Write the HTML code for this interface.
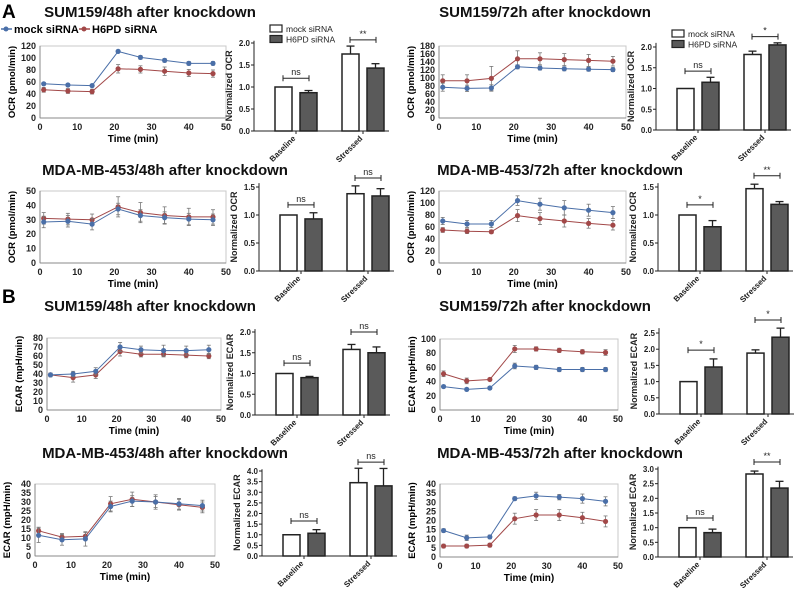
<!DOCTYPE html>
<html><head><meta charset="utf-8">
<style>
body{margin:0;background:#fff;}
svg{display:block;font-family:"Liberation Sans",Arial,sans-serif;}
.t{font-weight:bold;font-size:15px;fill:#111;}
.tk{font-size:9px;font-weight:bold;fill:#222;}
.btk{font-size:8px;font-weight:bold;fill:#222;}
</style></head>
<body>
<svg id="fig" width="799" height="590" viewBox="0 0 799 590">
<text x="2" y="18" style="font-size:19px;font-weight:bold">A</text>
<text x="2" y="303" style="font-size:19px;font-weight:bold">B</text>
<text class="t" x="150" y="17" text-anchor="middle">SUM159/48h after knockdown</text>
<text class="t" x="545" y="17" text-anchor="middle">SUM159/72h after knockdown</text>
<text class="t" x="165" y="175" text-anchor="middle">MDA-MB-453/48h after knockdown</text>
<text class="t" x="560" y="175" text-anchor="middle">MDA-MB-453/72h after knockdown</text>
<text class="t" x="150" y="311" text-anchor="middle">SUM159/48h after knockdown</text>
<text class="t" x="545" y="311" text-anchor="middle">SUM159/72h after knockdown</text>
<text class="t" x="165" y="458" text-anchor="middle">MDA-MB-453/48h after knockdown</text>
<text class="t" x="560" y="458" text-anchor="middle">MDA-MB-453/72h after knockdown</text>
<g>
<line x1="1" y1="29" x2="12" y2="29" stroke="#4a6fa8" stroke-width="1.5"/><circle cx="6" cy="29" r="2.5" fill="#4a6fa8"/>
<text x="14" y="33" style="font-size:11px;font-weight:bold">mock siRNA</text>
<line x1="79" y1="29" x2="90" y2="29" stroke="#a24848" stroke-width="1.5"/><circle cx="84" cy="29" r="2.5" fill="#a24848"/>
<text x="92" y="33" style="font-size:11px;font-weight:bold">H6PD siRNA</text>
</g>
</svg>
<script>
const times=[1,7.5,14,21,27,33.5,40,46.5];
const l1Mock=[57,55,54,111,101,96,91,91], l1MockErr=[2,2,2,2,3,3,3,3];
const l1H6=[47,45,44,82,81,78,75,74], l1H6Err=[4,4,4,7,6,7,6,6];
const l2Mock=[77,74,75,128,125,123,122,121], l2MockErr=[10,8,8,5,5,5,5,5];
const l2H6=[93,93,99,148,148,146,144,142], l2H6Err=[15,15,30,20,15,15,15,12];
const l3Mock=[28.5,29,27,37.5,33,31.5,30.5,30], l3MockErr=[4,4,4,4,4,4,4,4];
const l3H6=[31,30.5,30,39,35,33,32,32], l3H6Err=[4,4,4,7,7,6,6,5];
const l4Mock=[70,65,65,104,98,92,88,84], l4MockErr=[6,6,6,8,10,12,10,10];
const l4H6=[55,53,52,79,74,70,66,63], l4H6Err=[4,4,3,10,10,10,8,8];
const l5Mock=[39,40,43,70,67,66,66,67], l5MockErr=[2,3,4,5,4,6,5,5];
const l5H6=[39,36,39,65,62,62,61,60], l5H6Err=[2,5,4,5,3,3,3,3];
const l6Mock=[33,29,31,62,60,57,57,57], l6MockErr=[2,2,2,4,3,3,3,3];
const l6H6=[51,41,43,86,86,84,82,81], l6H6Err=[4,4,2,5,3,3,3,4];
const l7Mock=[11.5,9,9.5,27.5,30.5,30,29,28], l7MockErr=[4,3,4,3,3,3,3,3];
const l7H6=[14,10.5,11,29,31.5,30,28.5,27], l7H6Err=[2,2,2,4,4,4,3,3];
const l8Mock=[14.5,10.5,11,32,33.5,32.8,32,30.5], l8MockErr=[1,1.5,1,1,2,1.5,2.5,2.5];
const l8H6=[6,6,6.5,21,23,23,21.5,19.5], l8H6Err=[1,1,1,3,3,3,3,3];
const yTicks1=[0,20,40,60,80,100,120], yTicks2=[0,20,40,60,80,100,120,140,160,180];
const yTicks3=[0,10,20,30,40,50], yTicks5=[0,10,20,30,40,50,60,70,80];
const yTicks6=[0,20,40,60,80,100], yTicks7=[0,5,10,15,20,25,30,35,40];
const xTicks=[0,10,20,30,40,50];

const categories=["Baseline","Stressed"];
const b1Mock=[1.0,1.75],b1MockErr=[0,0.18],b1H6=[0.87,1.43],b1H6Err=[0.05,0.1],b1Sig=["ns","**"],b1SigY=[1.2,2.07];
const b2Mock=[1.0,1.82],b2MockErr=[0,0.08],b2H6=[1.15,2.05],b2H6Err=[0.12,0.05],b2Sig=["ns","*"],b2SigY=[1.42,2.25];
const b3Mock=[1.0,1.38],b3MockErr=[0,0.14],b3H6=[0.93,1.34],b3H6Err=[0.11,0.13],b3Sig=["ns","ns"],b3SigY=[1.18,1.66];
const b4Mock=[1.0,1.47],b4MockErr=[0,0.08],b4H6=[0.79,1.19],b4H6Err=[0.11,0.05],b4Sig=["*","**"],b4SigY=[1.18,1.7];
const b5Mock=[1.0,1.58],b5MockErr=[0,0.12],b5H6=[0.9,1.5],b5H6Err=[0.03,0.14],b5Sig=["ns","ns"],b5SigY=[1.25,2.0];
const b6Mock=[1.0,1.88],b6MockErr=[0,0.1],b6H6=[1.45,2.37],b6H6Err=[0.25,0.28],b6Sig=["*","*"],b6SigY=[1.97,2.9];
const b7Mock=[1.0,3.45],b7MockErr=[0,0.68],b7H6=[1.07,3.3],b7H6Err=[0.17,0.82],b7Sig=["ns","ns"],b7SigY=[1.65,4.42];
const b8Mock=[1.0,2.83],b8MockErr=[0,0.1],b8H6=[0.83,2.35],b8H6Err=[0.12,0.23],b8Sig=["ns","**"],b8SigY=[1.33,3.24];
const bTicks20=[0,0.5,1.0,1.5,2.0],bTicks15=[0,0.5,1.0,1.5],bTicks25=[0,0.5,1.0,1.5,2.0,2.5];
const bTicks40=[0,0.5,1.0,1.5,2.0,2.5,3.0,3.5,4.0],bTicks30=[0,0.5,1.0,1.5,2.0,2.5,3.0];

const NS="http://www.w3.org/2000/svg";
const svg=document.getElementById("fig");
function mk(tag,attrs,parent,text){const e=document.createElementNS(NS,tag);for(const k in attrs)e.setAttribute(k,attrs[k]);if(text!==undefined)e.textContent=text;(parent||svg).appendChild(e);return e;}
const BLUE="#4a6fa8",RED="#a24848";

function lineChart(name,g,ticks,ymax,ytitle,mock,mockErr,h6,h6Err){
  const G=mk("g",{});
  
  
  const xs=v=>g.x0+(g.x1-g.x0)*v/50, ys=v=>g.y0-(g.y0-g.y1)*v/ymax;
  mk("rect",{x:g.x0,y:g.y1,width:g.x1-g.x0,height:g.y0-g.y1,fill:"none",stroke:"#c8c8c8","stroke-width":1},G);
  mk("line",{x1:g.x0,y1:g.y1,x2:g.x0,y2:g.y0,stroke:"#888"},G);
  mk("line",{x1:g.x0,y1:g.y0,x2:g.x1,y2:g.y0,stroke:"#888"},G);
  ticks.forEach(t=>{const tx=mk("text",{x:g.x0-4,y:ys(t)+3,"text-anchor":"end",class:"tk"},G,String(t));
    });
  xTicks.forEach(t=>{const tx=mk("text",{x:xs(t),y:g.y0+12,"text-anchor":"middle",class:"tk"},G,String(t));
    });
  const xt=mk("text",{x:(g.x0+g.x1)/2,y:g.y0+24,"text-anchor":"middle",style:"font-size:10px;font-weight:bold"},G,"Time (min)");
  
  const yc=(g.y0+g.y1)/2;
  const yt=mk("text",{x:g.x0-25,y:yc,"text-anchor":"middle",transform:`rotate(-90 ${g.x0-25} ${yc})`,style:"font-size:9.5px;font-weight:bold"},G,ytitle);
  
  [[h6,h6Err,RED,"h6pd"],[mock,mockErr,BLUE,"mock"]].forEach(([d,e,c,n])=>{
    d.forEach((v,i)=>{const x=xs(times[i]);
      const el=mk("g",{},G);
      
      mk("line",{x1:x,y1:ys(v-e[i]),x2:x,y2:ys(v+e[i]),stroke:"#777","stroke-width":0.8},el);
      mk("line",{x1:x-2,y1:ys(v-e[i]),x2:x+2,y2:ys(v-e[i]),stroke:"#777","stroke-width":0.8},el);
      mk("line",{x1:x-2,y1:ys(v+e[i]),x2:x+2,y2:ys(v+e[i]),stroke:"#777","stroke-width":0.8},el);});
    const p=mk("polyline",{points:d.map((v,i)=>xs(times[i])+","+ys(v)).join(" "),fill:"none",stroke:c,"stroke-width":1},G);
    
    d.forEach((v,i)=>{const pt=mk("circle",{cx:xs(times[i]),cy:ys(v),r:2.6,fill:c},G);
      });
  });
}

function barChart(name,g,ticks,ymax,axTop,ytitle,mock,mockErr,h6,h6Err,sig,sigY,legend){
  const G=mk("g",{});
  
  
  const ys=v=>g.y0-(g.y0-g.y1)*v/ymax;
  mk("line",{x1:g.ax,y1:ys(axTop),x2:g.ax,y2:g.y0,stroke:"#222","stroke-width":1},G);
  mk("line",{x1:g.ax,y1:g.y0,x2:g.ax+135,y2:g.y0,stroke:"#222","stroke-width":1},G);
  ticks.forEach(t=>{mk("line",{x1:g.ax-3,y1:ys(t),x2:g.ax,y2:ys(t),stroke:"#222"},G);
    const tx=mk("text",{x:g.ax-4,y:ys(t)+3,"text-anchor":"end",class:"btk"},G,t.toFixed(1));
    });
  const yc=(g.y0+ys(axTop))/2;
  const yt=mk("text",{x:g.ax-22,y:yc,"text-anchor":"middle",transform:`rotate(-90 ${g.ax-22} ${yc})`,style:"font-size:9px;font-weight:bold;fill:#222"},G,ytitle);
  
  const W=17;
  categories.forEach((c,i)=>{
    const gx=g.ax+21+i*67;
    [[mock,mockErr,"#fff","mock",gx],[h6,h6Err,"#5a5a5a","h6pd",gx+25]].forEach(([d,e,f,n,x])=>{
      if(e[i]>0){mk("line",{x1:x+W/2,y1:ys(d[i]),x2:x+W/2,y2:ys(d[i]+e[i]),stroke:"#222","stroke-width":1.3},G);
        mk("line",{x1:x+W/2-4,y1:ys(d[i]+e[i]),x2:x+W/2+4,y2:ys(d[i]+e[i]),stroke:"#222","stroke-width":1.3},G);}
      const r=mk("rect",{x:x,y:ys(d[i]),width:W,height:g.y0-ys(d[i]),fill:f,stroke:"#222","stroke-width":1.5},G);
      
    });
    const cx=gx+21;
    mk("line",{x1:cx,y1:g.y0,x2:cx,y2:g.y0+3,stroke:"#222"},G);
    const lb=mk("text",{x:cx,y:g.y0+8,"text-anchor":"end",transform:`rotate(-45 ${cx} ${g.y0+8})`,class:"btk"},G,c);
    
    const sy=ys(sigY[i]);
    mk("path",{d:`M${gx+8} ${sy-3}V${sy+3}M${gx+8} ${sy}H${gx+34}M${gx+34} ${sy-3}V${sy+3}`,stroke:"#222",fill:"none","stroke-width":1},G);
    const st=mk("text",{x:gx+21,y:sy-3,"text-anchor":"middle",style:"font-size:9px;fill:#222"},G,sig[i]);
    
  });
  if(legend){
    const L=mk("g",{},G);
    
    [["#fff","mock siRNA"],["#5a5a5a","H6PD siRNA"]].forEach(([f,t],k)=>{
      mk("rect",{x:legend[0],y:legend[1]+k*10.5-4,width:12,height:7,fill:f,stroke:"#222","stroke-width":1.2},L);
      mk("text",{x:legend[0]+16,y:legend[1]+k*10.5+3,style:"font-size:8.5px;fill:#222"},L,t);
    });
  }
}

lineChart("ocr-sum159-48h",{x0:40,x1:226,y0:118,y1:46},yTicks1,120,"OCR (pmol/min)",l1Mock,l1MockErr,l1H6,l1H6Err);
lineChart("ocr-sum159-72h",{x0:439,x1:626,y0:118,y1:46},yTicks2,180,"OCR (pmol/min)",l2Mock,l2MockErr,l2H6,l2H6Err);
lineChart("ocr-mda-48h",{x0:40,x1:226,y0:263,y1:191},yTicks3,50,"OCR (pmol/min)",l3Mock,l3MockErr,l3H6,l3H6Err);
lineChart("ocr-mda-72h",{x0:439,x1:626,y0:263,y1:191},yTicks1,120,"OCR (pmol/min)",l4Mock,l4MockErr,l4H6,l4H6Err);
lineChart("ecar-sum159-48h",{x0:47,x1:221,y0:410,y1:338},yTicks5,80,"ECAR (mpH/min)",l5Mock,l5MockErr,l5H6,l5H6Err);
lineChart("ecar-sum159-72h",{x0:440,x1:618,y0:410,y1:339},yTicks6,100,"ECAR (mpH/min)",l6Mock,l6MockErr,l6H6,l6H6Err);
lineChart("ecar-mda-48h",{x0:35,x1:215,y0:556,y1:484},yTicks7,40,"ECAR (mpH/min)",l7Mock,l7MockErr,l7H6,l7H6Err);
lineChart("ecar-mda-72h",{x0:440,x1:618,y0:557,y1:484},yTicks7,40,"ECAR (mpH/min)",l8Mock,l8MockErr,l8H6,l8H6Err);

barChart("norm-ocr-sum159-48h",{ax:254,y0:131,y1:43},bTicks20,2.0,2.05,"Normalized OCR",b1Mock,b1MockErr,b1H6,b1H6Err,b1Sig,b1SigY,[270,29]);
barChart("norm-ocr-sum159-72h",{ax:656,y0:130,y1:47},bTicks20,2.0,2.1,"Normalized OCR",b2Mock,b2MockErr,b2H6,b2H6Err,b2Sig,b2SigY,[672,34]);
barChart("norm-ocr-mda-48h",{ax:259,y0:271,y1:187},bTicks15,1.5,1.57,"Normalized OCR",b3Mock,b3MockErr,b3H6,b3H6Err,b3Sig,b3SigY,null);
barChart("norm-ocr-mda-72h",{ax:658,y0:271,y1:187},bTicks15,1.5,1.57,"Normalized OCR",b4Mock,b4MockErr,b4H6,b4H6Err,b4Sig,b4SigY,null);
barChart("norm-ecar-sum159-48h",{ax:255,y0:415,y1:332},bTicks20,2.0,2.07,"Normalized ECAR",b5Mock,b5MockErr,b5H6,b5H6Err,b5Sig,b5SigY,null);
barChart("norm-ecar-sum159-72h",{ax:659,y0:414,y1:333},bTicks25,2.5,2.65,"Normalized ECAR",b6Mock,b6MockErr,b6H6,b6H6Err,b6Sig,b6SigY,null);
barChart("norm-ecar-mda-48h",{ax:262,y0:556,y1:471},bTicks40,4.0,4.08,"Normalized ECAR",b7Mock,b7MockErr,b7H6,b7H6Err,b7Sig,b7SigY,null);
barChart("norm-ecar-mda-72h",{ax:658,y0:557,y1:469},bTicks30,3.0,3.08,"Normalized ECAR",b8Mock,b8MockErr,b8H6,b8H6Err,b8Sig,b8SigY,null);
</script>
</body></html>
